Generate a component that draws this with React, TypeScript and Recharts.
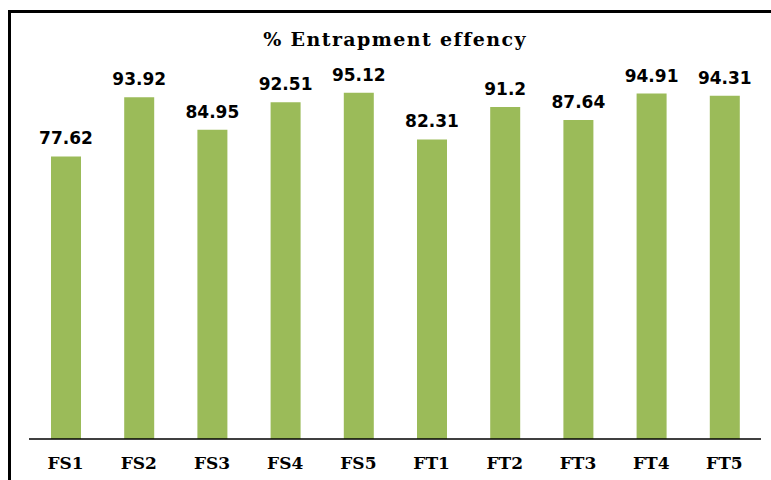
import React from 'react';
import { BarChart, Bar, XAxis, YAxis, LabelList } from 'recharts';

// formulation codes and their entrapment efficiency (%)
const formulations = ['FS1', 'FS2', 'FS3', 'FS4', 'FS5', 'FT1', 'FT2', 'FT3', 'FT4', 'FT5'];
const efficiency = [77.62, 93.92, 84.95, 92.51, 95.12, 82.31, 91.2, 87.64, 94.91, 94.31];

const data = formulations.map((name, i) => ({ name, value: efficiency[i] }));

const serif = '"DejaVu Serif", serif';

export default function App() {
    return (
        <div style={{ position: 'absolute', left: 0, top: 0, width: 771, height: 480, overflow: 'hidden', background: '#fff' }}>
            <div style={{ position: 'absolute', left: 8, top: 10, width: 800, height: 500, border: '3px solid #000' }} />
            <div style={{ position: 'absolute', left: 0, top: 0 }}>
                <BarChart width={771} height={480} data={data} margin={{ top: 75, right: 10, bottom: 0, left: 29 }}>
                    <text x={395} y={46} textAnchor="middle" fontFamily={serif} fontWeight="bold" fontSize={19} letterSpacing={1.4} fill="#000">
                        % Entrapment effency
                    </text>
                    <YAxis hide domain={[0, 100]} />
                    <XAxis
                        dataKey="name"
                        height={41}
                        axisLine={{ stroke: '#000', strokeWidth: 1.5 }}
                        tickLine={false}
                        tickMargin={12}
                        tick={{ fill: '#000', fontSize: 17, fontWeight: 'bold', fontFamily: serif }}
                    />
                    <Bar dataKey="value" fill="#9bbb59" barSize={30} isAnimationActive={false}>
                        <LabelList
                            dataKey="value"
                            position="top"
                            offset={12}
                            fill="#000"
                            fontSize={17}
                            fontWeight="bold"
                            fontFamily='"DejaVu Sans", sans-serif'
                        />
                    </Bar>
                </BarChart>
            </div>
        </div>
    );
}
